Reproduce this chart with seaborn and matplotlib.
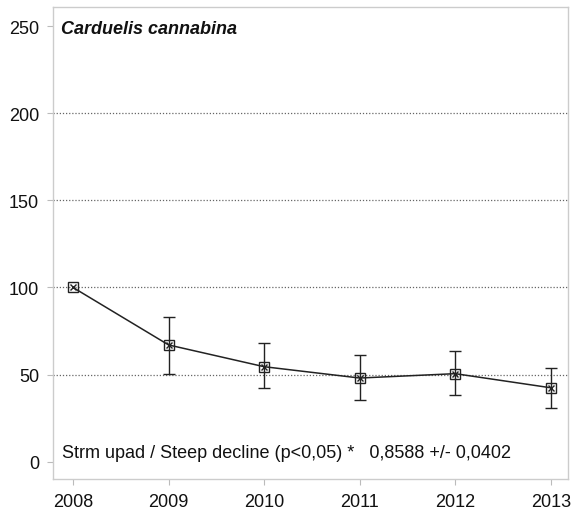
import numpy as np
import pandas as pd
import seaborn as sns
import matplotlib.pyplot as plt

years = [2008, 2009, 2010, 2011, 2012, 2013]
index = [100, 67, 54.5, 48, 50.5, 42.4]
upper = [100, 83, 68, 61, 63.5, 54]
lower = [100, 50.5, 42, 35.5, 38.5, 31]
title = "Carduelis cannabina"
trend = "Strm upad / Steep decline (p<0,05) *   0,8588 +/- 0,0402"

df = pd.DataFrame({"year": years, "index": index, "upper": upper, "lower": lower})

sns.set_style("white")
plt.rcParams['font.family'] = ['Liberation Sans', 'DejaVu Sans']

fig = plt.figure(figsize=(5.74, 5.10), dpi=100)
ax = fig.add_axes([0.0923, 0.0588, 0.8972, 0.9252])

for y in [50, 100, 150, 200]:
    ax.axhline(y, color='#666666', ls=(0, (1, 1.5)), lw=0.9, zorder=0)

yerr = np.array([df["index"] - df["lower"], df["upper"] - df["index"]])
mask = df["year"] != 2008
ax.errorbar(df["year"][mask], df["index"][mask], yerr=yerr[:, mask.values],
            fmt='none', ecolor='#222222', elinewidth=1, capsize=4.5, capthick=1, zorder=2)

sns.lineplot(data=df, x="year", y="index", ax=ax, color='#222222', lw=1.1,
             marker='s', markersize=7, markerfacecolor='none',
             markeredgecolor='#222222', markeredgewidth=1, zorder=3)
ax.plot(df["year"], df["index"], ls='none', marker='x', ms=5, color='#222222',
        mew=1, zorder=4)

ax.set_xlim(2007.79, 2013.18)
ax.set_ylim(-10, 261)
ax.set_xticks(years)
ax.set_yticks([0, 50, 100, 150, 200, 250])
ax.set_xlabel("")
ax.set_ylabel("")
ax.tick_params(axis='both', labelsize=13, colors='#bbbbbb', labelcolor='#111111',
               length=4, width=0.8, direction='out', bottom=True, left=True)
ax.tick_params(axis='y', pad=6)
ax.tick_params(axis='x', pad=6)
for s in ax.spines.values():
    s.set_color('#cccccc')
    s.set_linewidth(1)

ax.text(2007.87, 248.5, title, fontsize=13, fontstyle='italic', fontweight='bold',
        va='center', ha='left', color='#111111')
ax.text(2007.88, 5.3, trend, fontsize=13, va='center', ha='left', color='#111111')

fig.savefig("out.png", dpi=100)
